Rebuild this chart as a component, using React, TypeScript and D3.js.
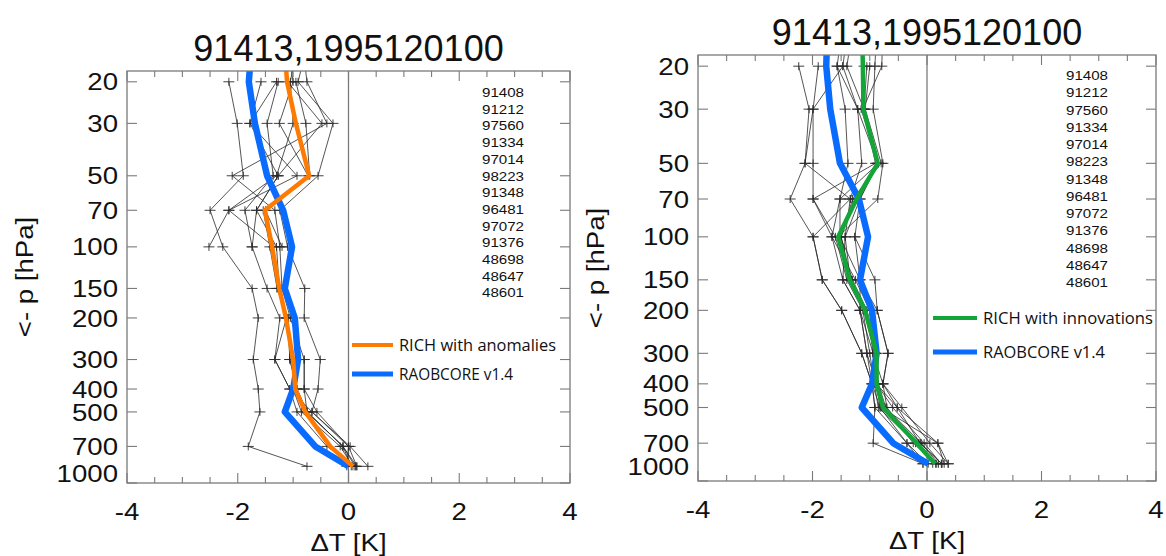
import React from 'react';
import * as d3 from 'd3';

// ---------------- data ----------------
const levels = [10, 20, 30, 50, 70, 100, 150, 200, 300, 400, 500, 700, 850];
const yTickValues = [20, 30, 50, 70, 100, 150, 200, 300, 400, 500, 700, 1000];
const xTickValues = [-4, -2, 0, 2, 4];
const stationIds = ['91408', '91212', '97560', '91334', '97014', '98223', '91348', '96481', '97072', '91376', '48698', '48647', '48601'];
const titleText = '91413,1995120100';

const leftRich = [-1.2, -1.11, -0.95, -0.71, -1.51, -1.38, -1.25, -1.13, -1.0, -0.96, -0.78, -0.33, 0.08];
const leftRaob = [-1.7, -1.8, -1.69, -1.47, -1.18, -1.02, -1.15, -0.97, -0.91, -1.0, -1.15, -0.6, 0.0];
const rightRich = [-1.15, -1.12, -1.11, -0.86, -1.23, -1.55, -1.35, -1.08, -0.88, -0.88, -0.77, -0.18, 0.14];
const rightRaob = [-1.72, -1.76, -1.69, -1.52, -1.19, -1.03, -1.17, -0.96, -0.88, -0.96, -1.14, -0.59, 0.02];

const leftNeighbours: (number | null)[][] = [
  [null, -2.16, -2.01, -1.9, -2.5, -2.27, -1.74, -1.63, -1.72, -1.63, -1.6, -1.81, -0.75],
  [null, -1.58, -1.78, -0.93, -2.16, -2.52, null, null, null, null, null, null, null],
  [null, -1.27, -1.47, -1.36, -1.87, -1.74, -1.47, -1.24, -1.33, -1.06, -0.93, -0.39, 0.12],
  [-0.6, -0.91, -0.28, -0.55, -1.24, -1.1, -0.79, -0.8, -0.51, -0.55, -0.66, 0.03, 0.35],
  [-1.2, -1.0, -1.25, -0.73, -1.54, -1.42, -1.29, -1.09, -1.06, -0.93, -0.75, -0.1, 0.15],
  [-0.9, -0.75, -0.39, -2.1, -1.33, -1.24, -1.2, -1.05, -0.8, -0.8, -0.57, 0.0, -0.03],
  [null, -1.1, -0.48, -1.27, -1.66, -1.3, -1.25, -1.12, -1.0, -1.0, -0.85, -0.15, 0.08],
  [-0.8, -1.05, -1.0, -1.3, -2.16, -1.35, null, null, null, null, null, null, null],
  [null, -0.95, -0.77, -0.7, -1.5, -1.2, null, null, null, null, null, null, null],
  [null, -1.3, -1.78, -1.27, -1.66, -1.74, null, null, null, null, null, null, null],
  [null, null, null, null, null, null, -1.29, -1.09, -1.06, -0.93, -0.75, -0.1, 0.12],
  [null, null, null, null, null, null, -1.25, -1.12, -1.33, -1.06, -0.66, 0.0, 0.15],
  [null, null, null, null, null, null, null, null, -0.8, -0.8, -0.75, -0.1, 0.05],
];

const rightNeighbours: (number | null)[][] = [
  [null, -2.24, -2.06, -2.13, -2.39, -1.99, -1.83, -1.49, -1.14, -0.96, -0.91, -0.94, -0.07],
  [null, -1.9, -1.99, -1.99, -1.99, -1.66, -1.47, -1.17, -1.05, -0.96, -0.82, -0.35, 0.02],
  [-1.4, -1.57, -1.43, -1.38, -1.52, -1.52, -1.17, -1.17, -0.94, -0.77, -0.7, -0.24, 0.17],
  [-1.3, -1.47, -1.21, -1.14, -1.34, -1.43, -1.34, -1.08, -0.88, -0.88, -0.52, -0.12, 0.26],
  [-1.2, -1.4, -1.1, -0.86, -1.17, -1.26, -0.91, -0.87, -0.68, -0.77, -0.44, 0.05, 0.37],
  [-0.85, -0.91, -0.94, -0.77, -0.86, -1.55, -1.3, -1.05, -0.9, -0.9, -0.8, 0.19, 0.3],
  [-0.75, -0.79, -1.12, -0.88, -1.25, -1.5, -1.35, -1.1, -0.92, -0.9, -0.75, -0.15, 0.15],
  [null, -1.05, -1.1, -0.9, -1.99, -1.6, -1.4, -1.12, -1.0, -0.92, -0.85, -0.2, 0.1],
  [null, -1.1, -1.15, -0.85, -1.52, -1.66, -1.25, -1.0, -0.95, -0.85, -0.72, -0.1, 0.2],
  [null, -1.0, -1.08, -0.8, -1.3, -1.5, -1.32, -1.05, -0.9, -0.88, -0.6, -0.05, 0.25],
  [null, -1.47, -1.99, -2.13, -1.34, -1.99, -1.83, -1.49, -1.14, -0.96, -0.91, -0.35, -0.07],
  [null, -1.57, -1.21, -0.86, -1.17, -1.43, -1.47, -1.17, -1.05, -0.88, -0.82, -0.12, 0.26],
  [null, null, null, null, null, -1.26, -1.17, -0.87, -0.68, -0.77, -0.52, 0.19, 0.37],
];

// ---------------- layout ----------------
const W = 1166;
const H = 556;
const SANS = '"Liberation Sans", Arial, Helvetica, sans-serif';
const LEG_FONT = '"Open Sans", "Noto Sans", sans-serif';
const AXIS_COLOR = '#7a7a7a';
const BLUE = '#0a6cff';

type PanelCfg = {
  id: string;
  x0: number; x1: number; y0: number; y1: number;
  titleY: number;
  bottomLabelShift: number;
  rich: number[]; raob: number[];
  richColor: string; richLabel: string; richLabelW: number; raobLabelW: number;
  neigh: (number | null)[][];
  listX: number; listY: number; listStep: number;
  legX: number; legLen: number; legY: number; legStep: number;
  richW: number; raobW: number;
};

const panels: PanelCfg[] = [
  {
    id: 'L', x0: 127, x1: 570, y0: 71, y1: 483, titleY: 61, bottomLabelShift: -10,
    rich: leftRich, raob: leftRaob, richColor: '#ff7a00', richLabel: 'RICH with anomalies',
    richLabelW: 157, raobLabelW: 114,
    neigh: leftNeighbours,
    listX: 482, listY: 92, listStep: 16.7,
    legX: 352, legLen: 41, legY: 345, legStep: 29, richW: 4.5, raobW: 6.5,
  },
  {
    id: 'R', x0: 698, x1: 1156, y0: 55, y1: 481, titleY: 45, bottomLabelShift: -15,
    rich: rightRich, raob: rightRaob, richColor: '#14a539', richLabel: 'RICH with innovations',
    richLabelW: 170, raobLabelW: 122,
    neigh: rightNeighbours,
    listX: 1066, listY: 75, listStep: 17.25,
    legX: 933, legLen: 44, legY: 318, legStep: 34, richW: 4.5, raobW: 6.5,
  },
];

type TProps = {
  x: number; y: number; size: number; anchor?: 'start' | 'middle' | 'end';
  sx?: number; rot?: number; family?: string; fill?: string; children: React.ReactNode;
  textLength?: number;
};
const T = ({ x, y, size, anchor = 'start', sx = 1.15, rot = 0, family = SANS, fill = '#111', children, textLength }: TProps) => (
  <text
    transform={`translate(${x},${y}) rotate(${rot}) scale(${sx},1)`}
    fontSize={size}
    textAnchor={anchor}
    fontFamily={family}
    fill={fill}
    textLength={textLength}
    lengthAdjust={textLength ? 'spacingAndGlyphs' : undefined}
  >
    {children}
  </text>
);

function Panel({ p }: { p: PanelCfg }) {
  const x = d3.scaleLinear().domain([-4, 4]).range([p.x0, p.x1]);
  const y = d3.scaleLog().domain([18, 1000]).range([p.y0, p.y1]);
  const line = d3
    .line<[number, number]>()
    .x((d) => x(d[0]))
    .y((d) => y(d[1]));
  const minor = d3.range(-4, 4.001, 0.5);
  const clipId = `clip-${p.id}`;
  const profile = (vals: (number | null)[]) =>
    vals.map((v, i) => (v == null ? null : ([v, levels[i]] as [number, number]))).filter((d) => d != null) as [number, number][];
  const cx = (p.x0 + p.x1) / 2;
  const cy = (p.y0 + p.y1) / 2;
  const plus = 'M-5.5,0H5.5M0,-4V4';

  return (
    <g>
      <defs>
        <clipPath id={clipId}>
          <rect x={p.x0} y={p.y0} width={p.x1 - p.x0} height={p.y1 - p.y0} />
        </clipPath>
      </defs>
      {/* title */}
      <T x={cx} y={p.titleY} size={36} anchor="middle" sx={1.0}>{titleText}</T>

      {/* zero line */}
      <line x1={x(0)} x2={x(0)} y1={p.y0} y2={p.y1} stroke={AXIS_COLOR} strokeWidth={1.3} />

      {/* neighbour profiles */}
      <g clipPath={`url(#${clipId})`}>
        {p.neigh.map((vals, i) => {
          const pts = profile(vals);
          return (
            <g key={i}>
              <path d={line(pts) || ''} fill="none" stroke="#2a2a2a" strokeWidth={0.8} />
              {pts
                .filter((d) => d[1] >= 20)
                .map((d, j) => (
                  <path key={j} d={plus} transform={`translate(${x(d[0])},${y(d[1])})`} stroke="#2a2a2a" strokeWidth={0.9} fill="none" />
                ))}
            </g>
          );
        })}
        <path d={line(profile(p.raob)) || ''} fill="none" stroke={BLUE} strokeWidth={p.raobW} strokeLinejoin="round" />
        <path d={line(profile(p.rich)) || ''} fill="none" stroke={p.richColor} strokeWidth={p.richW} strokeLinejoin="round" />
      </g>

      {/* box */}
      <rect x={p.x0} y={p.y0} width={p.x1 - p.x0} height={p.y1 - p.y0} fill="none" stroke={AXIS_COLOR} strokeWidth={1.3} />

      {/* x ticks */}
      {minor.map((v, i) => {
        const major = Math.abs(v / 2 - Math.round(v / 2)) < 1e-6;
        const len = major ? 10 : 6;
        return (
          <g key={i}>
            <line x1={x(v)} x2={x(v)} y1={p.y1} y2={p.y1 - len} stroke={AXIS_COLOR} strokeWidth={1.1} />
            <line x1={x(v)} x2={x(v)} y1={p.y0} y2={p.y0 + len} stroke={AXIS_COLOR} strokeWidth={1.1} />
          </g>
        );
      })}
      {xTickValues.map((v) => (
        <T key={v} x={x(v)} y={p.y1 + 37} size={24} anchor="middle">{String(v)}</T>
      ))}
      <T x={cx} y={p.y1 + 68} size={24} anchor="middle">ΔT [K]</T>

      {/* y ticks */}
      {yTickValues.map((v) => (
        <g key={v}>
          <line x1={p.x0} x2={p.x0 + 10} y1={y(v)} y2={y(v)} stroke={AXIS_COLOR} strokeWidth={1.1} />
          <line x1={p.x1} x2={p.x1 - 10} y1={y(v)} y2={y(v)} stroke={AXIS_COLOR} strokeWidth={1.1} />
          <T x={p.x0 - 9} y={y(v) + 8.6 + (v === 1000 ? p.bottomLabelShift : 0)} size={24} anchor="end">
            {String(v)}
          </T>
        </g>
      ))}
      <T x={p.x0 - 94} y={cy} size={24} anchor="middle" rot={-90}>{'<-  p [hPa]'}</T>

      {/* station list */}
      {stationIds.map((s, i) => (
        <T key={s} x={p.listX} y={p.listY + i * p.listStep + 5} size={13.5} sx={1.12}>{s}</T>
      ))}

      {/* legend */}
      <line x1={p.legX} x2={p.legX + p.legLen} y1={p.legY} y2={p.legY} stroke={p.richColor} strokeWidth={4} />
      <T x={p.legX + p.legLen + 6} y={p.legY + 6} size={16} sx={1} family={LEG_FONT} textLength={p.richLabelW}>{p.richLabel}</T>
      <line x1={p.legX} x2={p.legX + p.legLen} y1={p.legY + p.legStep} y2={p.legY + p.legStep} stroke={BLUE} strokeWidth={5} />
      <T x={p.legX + p.legLen + 6} y={p.legY + p.legStep + 6} size={16} sx={1} family={LEG_FONT} textLength={p.raobLabelW}>RAOBCORE v1.4</T>
    </g>
  );
}

export default function App() {
  return (
    <svg
      width={W}
      height={H}
      viewBox={`0 0 ${W} ${H}`}
      style={{ position: 'absolute', left: 0, top: 0, background: '#fff' }}
    >
      <rect x={0} y={0} width={W} height={H} fill="#fff" />
      {panels.map((p) => (
        <Panel key={p.id} p={p} />
      ))}
    </svg>
  );
}
